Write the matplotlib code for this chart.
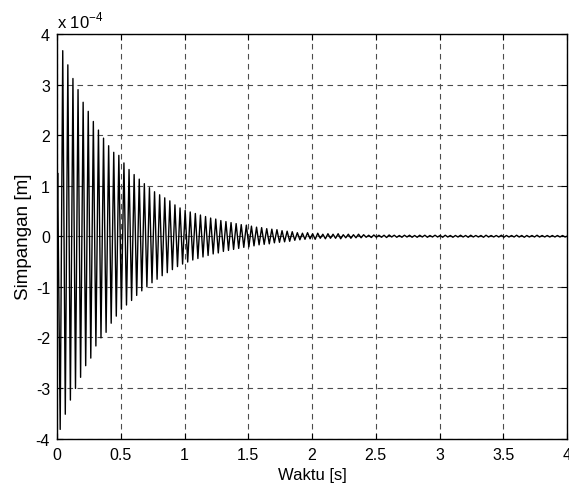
import matplotlib
matplotlib.use("Agg")
import matplotlib.pyplot as plt
import numpy as np

plt.rcParams['font.family'] = ['Liberation Sans', 'DejaVu Sans']
plt.rcParams['mathtext.fontset'] = 'custom'
plt.rcParams['mathtext.rm'] = 'Liberation Sans'

# peak values (units of 1e-4 m)
# positive peaks, one per cycle, first one at t = 0.005 s
pos_peaks = [1.25, 3.67, 3.39, 3.12, 2.90, 2.65, 2.47, 2.27, 2.10, 1.94,
             1.79, 1.66, 1.60, 1.45, 1.32, 1.22, 1.13, 1.04, 0.96, 0.88,
             0.82, 0.76, 0.70, 0.62, 0.56, 0.51, 0.48, 0.45, 0.42, 0.39,
             0.36, 0.34, 0.31, 0.29, 0.27, 0.25, 0.23, 0.22, 0.20, 0.18,
             0.17, 0.15, 0.14, 0.13, 0.11, 0.10, 0.09, 0.07, 0.06, 0.07,
             0.05, 0.06, 0.04, 0.05, 0.04, 0.05, 0.03, 0.04, 0.03, 0.04,
             0.03, 0.02, 0.025, 0.02, 0.02, 0.025, 0.02, 0.015, 0.02, 0.02,
             0.015, 0.02, 0.02, 0.015, 0.02, 0.015, 0.02, 0.015, 0.015, 0.02,
             0.015, 0.02, 0.015, 0.015, 0.02, 0.015, 0.015, 0.02, 0.015, 0.015,
             0.02, 0.015, 0.015, 0.015, 0.02, 0.015, 0.015, 0.015, 0.015, 0.015]
# negative peaks, first one at t = 0.025 s
neg_peaks = [-3.82, -3.52, -3.24, -3.01, -2.79, -2.56, -2.41, -2.17, -2.01, -1.90,
             -1.72, -1.58, -1.44, -1.36, -1.27, -1.17, -1.08, -1.00, -0.92, -0.85,
             -0.78, -0.72, -0.66, -0.60, -0.55, -0.51, -0.47, -0.44, -0.41, -0.38,
             -0.35, -0.33, -0.30, -0.28, -0.26, -0.24, -0.22, -0.21, -0.19, -0.17,
             -0.16, -0.15, -0.13, -0.12, -0.11, -0.10, -0.08, -0.07, -0.06, -0.05,
             -0.06, -0.04, -0.05, -0.04, -0.04, -0.05, -0.03, -0.04, -0.03, -0.03,
             -0.02, -0.025, -0.02, -0.02, -0.025, -0.015, -0.02, -0.02, -0.015, -0.02,
             -0.02, -0.015, -0.02, -0.015, -0.015, -0.02, -0.015, -0.02, -0.015, -0.015,
             -0.02, -0.015, -0.015, -0.02, -0.015, -0.015, -0.015, -0.02, -0.015, -0.015,
             -0.015, -0.02, -0.015, -0.015, -0.015, -0.015, -0.015, -0.015, -0.015, -0.015]
half_period = 0.02  # s between successive peaks
t_first = 0.005

x_ticks = [0, 0.5, 1, 1.5, 2, 2.5, 3, 3.5, 4]
x_labels = ['0', '0.5', '1', '1.5', '2', '2.5', '3', '3.5', '4']
y_ticks = [-4, -3, -2, -1, 0, 1, 2, 3, 4]

# interleave the peaks into one trace
vals = np.empty(2 * len(pos_peaks))
vals[0::2] = pos_peaks
vals[1::2] = neg_peaks
t = t_first + half_period * np.arange(len(vals))
t = np.concatenate([[0.0], t, [4.0]])
y = np.concatenate([[0.0], vals, [0.0]]) * 1e-4

fig = plt.figure(figsize=(5.69, 4.89), dpi=100)
ax = fig.add_axes([57 / 569, 1 - 439.5 / 489, 510 / 569, 404.5 / 489])

ax.plot(t, y, color='k', lw=1.0)

ax.set_xlim(0, 4)
ax.set_ylim(-4e-4, 4e-4)
ax.set_xticks(x_ticks)
ax.set_xticklabels(x_labels)
ax.set_yticks([v * 1e-4 for v in y_ticks])
ax.set_yticklabels([str(v) for v in y_ticks])
ax.tick_params(direction='in', top=True, right=True, length=4, labelsize=11.5)
ax.tick_params(axis='x', pad=6)
ax.tick_params(axis='y', pad=5)
ax.grid(True, color='0.3', linestyle=(0, (5, 4)), linewidth=0.8)
for s in ax.spines.values():
    s.set_linewidth(1.0)

ax.set_xlabel('Waktu [s]', fontsize=12, labelpad=4)
ax.set_ylabel('Simpangan [m]', fontsize=13.5, labelpad=3)
fig.text(57 / 569, 1 - 21 / 489, r'x 10$^{-4}$', fontsize=12, ha='left', va='center')

fig.savefig('out.png', dpi=100)
